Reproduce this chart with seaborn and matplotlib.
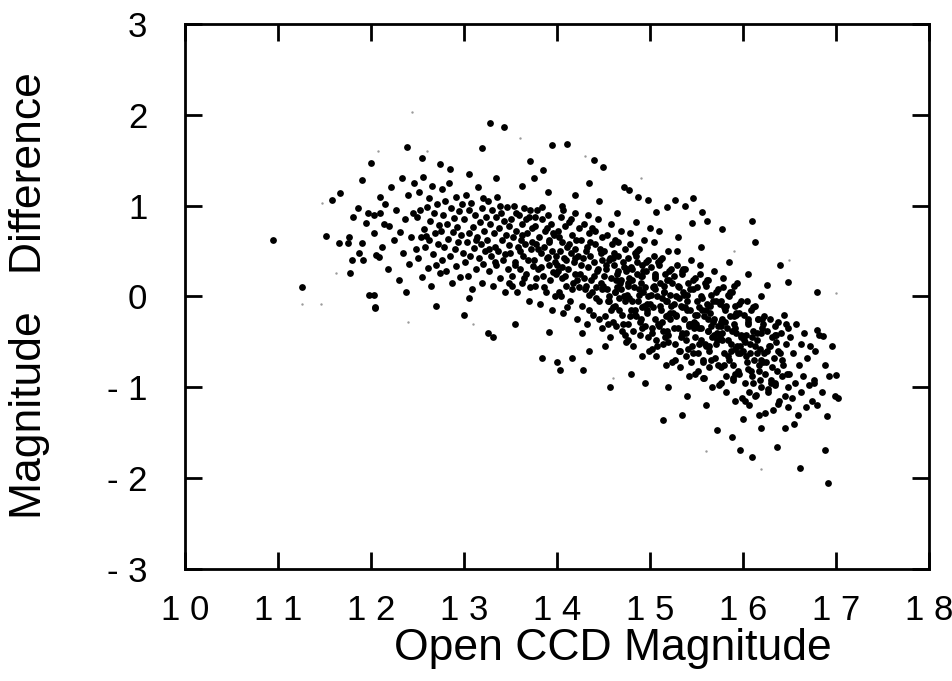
import pandas as pd
import matplotlib.pyplot as plt
import seaborn as sns

mag_left = [10.95, 11.58, 11.26, 11.67, 11.52, 11.66, 11.75, 11.76, 11.90, 11.78,
            11.98, 12.03, 12.04, 11.87, 11.80, 11.92, 11.86, 11.81, 11.97, 12.03,
            12.10, 11.90, 12.00, 11.95, 12.03, 12.10, 12.09, 12.06]
diff_left = [0.62, 1.06, 0.10, 1.14, 0.67, 0.59, 0.59, 0.66, 0.59, 0.26,
             0.02, 0.02, -0.12, 0.48, 0.40, 0.40, 0.97, 0.87, 0.92, 0.90,
             0.92, 1.28, 1.47, 0.81, 0.70, 1.10, 0.44, 0.46]

mag_121 = [12.12, 12.15, 12.18, 12.20, 12.22, 12.25, 12.27, 12.30, 12.31, 12.33,
           12.35, 12.37, 12.40, 12.41, 12.43, 12.45, 12.46, 12.48, 12.14, 12.38]
diff_121 = [0.55, 1.02, 0.30, 0.78, 1.21, 0.62, 0.95, 0.18, 0.71, 1.30,
            0.48, 0.85, 1.12, 0.36, 0.66, 0.92, 1.25, 0.52, 0.80, 0.05]

mag_125 = [12.50, 12.51, 12.52, 12.54, 12.55, 12.56, 12.57, 12.58, 12.60, 12.61,
           12.62, 12.63, 12.64, 12.65, 12.66, 12.67, 12.68, 12.69, 12.70, 12.71,
           12.72, 12.73, 12.74, 12.53, 12.59]
diff_125 = [0.88, 0.42, 1.15, 0.66, 0.21, 1.32, 0.74, 0.55, 0.98, 0.31,
            1.08, 0.62, 0.83, 0.12, 1.22, 0.47, 0.92, 0.70, 0.35, 1.02,
            0.58, 0.79, 0.26, 0.95, 0.67]

mag_1275 = [12.75, 12.76, 12.77, 12.78, 12.79, 12.80, 12.81, 12.82, 12.83, 12.84,
            12.85, 12.86, 12.87, 12.88, 12.89, 12.90, 12.91, 12.92, 12.93, 12.94,
            12.95, 12.96, 12.97, 12.98, 12.99]
diff_1275 = [0.72, 1.18, 0.40, 0.90, 0.55, 1.05, 0.28, 0.80, 0.63, 1.25,
             0.45, 0.97, 0.15, 0.71, 0.86, 0.52, 1.10, 0.33, 0.77, 0.60,
             0.94, 0.21, 0.68, 1.02, 0.48]

mag_13 = [13.00, 13.01, 13.02, 13.03, 13.04, 13.05, 13.06, 13.07, 13.08, 13.09,
          13.10, 13.11, 13.12, 13.13, 13.14, 13.15, 13.16, 13.17, 13.18, 13.19,
          13.20, 13.21, 13.22, 13.23, 13.24, 13.05, 13.13, 13.21]
diff_13 = [0.85, 0.38, 1.12, 0.60, 0.22, 0.95, 0.70, 0.45, 1.03, 0.08,
           0.77, 0.53, 0.90, 0.30, 0.66, 1.20, 0.42, 0.82, 0.58, 0.15,
           0.97, 0.36, 0.72, 0.50, 0.88, -0.02, 0.62, 1.08]

mag_1325 = [13.25, 13.26, 13.27, 13.28, 13.29, 13.30, 13.31, 13.32, 13.33, 13.34,
            13.35, 13.36, 13.37, 13.38, 13.39, 13.40, 13.41, 13.42, 13.43, 13.44,
            13.45, 13.46, 13.47, 13.48, 13.49, 13.27, 13.33, 13.39, 13.44, 13.48]
diff_1325 = [0.62, 1.05, 0.28, 0.80, 0.45, 0.95, 0.12, 0.70, 0.55, 0.88,
             0.35, 1.10, 0.50, 0.75, 0.20, 0.92, 0.62, 0.40, 0.83, 0.05,
             0.68, 0.98, 0.30, 0.57, 0.78, 0.52, 0.38, 1.00, 0.47, 0.15]

mag_135 = [13.50, 13.51, 13.52, 13.53, 13.54, 13.55, 13.56, 13.57, 13.58, 13.59,
           13.60, 13.61, 13.62, 13.63, 13.64, 13.65, 13.66, 13.67, 13.68, 13.69,
           13.70, 13.71, 13.72, 13.73, 13.74, 13.52, 13.56, 13.60, 13.63, 13.67,
           13.70, 13.73, 13.55, 13.65, 13.71]
diff_135 = [0.48, 0.85, 0.22, 0.65, 1.00, 0.38, 0.72, 0.05, 0.55, 0.90,
            0.30, 0.62, 0.80, 0.15, 0.45, 0.97, 0.58, 0.25, 0.70, 0.40,
            0.88, 0.10, 0.52, 0.75, 0.33, 0.12, 0.92, 0.50, 0.68, 0.85,
            -0.05, 0.60, 0.35, 0.20, 0.95]

mag_1375 = [13.75, 13.76, 13.77, 13.78, 13.79, 13.80, 13.81, 13.82, 13.83, 13.84,
            13.85, 13.86, 13.87, 13.88, 13.89, 13.90, 13.91, 13.92, 13.93, 13.94,
            13.95, 13.96, 13.97, 13.98, 13.99, 13.77, 13.80, 13.83, 13.86, 13.89,
            13.92, 13.95, 13.98, 13.78, 13.84, 13.90, 13.96, 13.99]
diff_1375 = [0.40, 0.78, 0.12, 0.58, 0.95, 0.30, 0.65, -0.08, 0.48, 0.85,
             0.22, 0.55, 0.72, 0.05, 0.42, 0.90, 0.35, 0.62, 0.18, 0.80,
             0.50, 0.27, 0.68, 0.00, 0.45, 0.88, 0.52, 0.32, 0.10, 0.75,
             0.60, -0.15, 0.38, 0.20, 0.98, 0.44, 0.70, 0.25]

mag_14 = [14.00, 14.01, 14.02, 14.03, 14.04, 14.05, 14.06, 14.07, 14.08, 14.09,
          14.10, 14.11, 14.12, 14.13, 14.14, 14.15, 14.16, 14.17, 14.18, 14.19,
          14.20, 14.21, 14.22, 14.23, 14.24, 14.01, 14.04, 14.07, 14.10, 14.13,
          14.16, 14.19, 14.22, 14.02, 14.06, 14.11, 14.15, 14.20, 14.24, 14.09]
diff_14 = [0.35, 0.72, 0.05, 0.50, 0.88, 0.20, 0.60, -0.18, 0.42, 0.78,
           0.12, 0.55, 0.30, 0.82, -0.05, 0.48, 0.68, 0.15, 0.38, 0.92,
           0.25, 0.62, -0.25, 0.45, 0.75, 0.28, 0.00, 0.95, 0.40, 0.58,
           0.08, 0.52, 0.18, 0.65, 0.32, -0.12, 0.85, 0.42, 0.10, 0.22]

mag_1425 = [14.25, 14.26, 14.27, 14.28, 14.29, 14.30, 14.31, 14.32, 14.33, 14.34,
            14.35, 14.36, 14.37, 14.38, 14.39, 14.40, 14.41, 14.42, 14.43, 14.44,
            14.45, 14.46, 14.47, 14.48, 14.49, 14.26, 14.29, 14.32, 14.35, 14.38,
            14.41, 14.44, 14.47, 14.27, 14.31, 14.36, 14.40, 14.45, 14.49, 14.33,
            14.42, 14.48]
diff_1425 = [0.25, 0.62, -0.10, 0.42, 0.80, 0.08, 0.50, -0.30, 0.32, 0.70,
             0.02, 0.45, 0.18, 0.75, -0.20, 0.38, 0.58, 0.10, 0.28, 0.85,
             -0.05, 0.52, 0.15, 0.65, -0.35, 0.35, 0.20, 0.55, -0.15, 0.05,
             0.72, 0.30, 0.48, -0.40, 0.12, 0.60, 0.22, -0.25, 0.40, 0.90,
             -0.02, 0.08]

mag_145 = [14.50, 14.51, 14.52, 14.53, 14.54, 14.55, 14.56, 14.57, 14.58, 14.59,
           14.60, 14.61, 14.62, 14.63, 14.64, 14.65, 14.66, 14.67, 14.68, 14.69,
           14.70, 14.71, 14.72, 14.73, 14.74, 14.51, 14.54, 14.57, 14.60, 14.63,
           14.66, 14.69, 14.72, 14.52, 14.56, 14.61, 14.65, 14.70, 14.74, 14.58,
           14.67, 14.73]
diff_145 = [0.12, 0.50, -0.22, 0.30, 0.68, -0.05, 0.40, -0.45, 0.20, 0.58,
            -0.12, 0.35, 0.05, 0.62, -0.32, 0.25, 0.45, -0.02, 0.15, 0.72,
            -0.20, 0.38, 0.00, 0.52, -0.50, 0.22, 0.08, 0.42, -0.28, -0.10,
            0.60, 0.18, 0.32, -0.55, 0.00, 0.48, 0.10, -0.38, 0.28, 0.80,
            -0.15, -0.05]

mag_1475 = [14.75, 14.76, 14.77, 14.78, 14.79, 14.80, 14.81, 14.82, 14.83, 14.84,
            14.85, 14.86, 14.87, 14.88, 14.89, 14.90, 14.91, 14.92, 14.93, 14.94,
            14.95, 14.96, 14.97, 14.98, 14.99, 14.76, 14.78, 14.80, 14.82, 14.84,
            14.86, 14.88, 14.90, 14.92, 14.94, 14.96, 14.98, 14.77, 14.81, 14.85,
            14.89, 14.93, 14.97, 14.79, 14.91]
diff_1475 = [0.02, 0.42, -0.30, 0.20, 0.58, -0.15, 0.30, -0.55, 0.10, 0.48,
             -0.22, 0.25, -0.05, 0.52, -0.42, 0.15, 0.35, -0.12, 0.05, 0.62,
             -0.32, 0.28, -0.08, 0.40, -0.60, 0.12, -0.02, 0.32, -0.38, -0.20,
             0.50, 0.08, 0.22, -0.65, -0.10, 0.38, 0.00, -0.48, 0.18, 0.45,
             -0.28, 0.28, -0.15, 0.70, -0.35]

mag_15 = [15.00, 15.01, 15.02, 15.03, 15.04, 15.05, 15.06, 15.07, 15.08, 15.09,
          15.10, 15.11, 15.12, 15.13, 15.14, 15.15, 15.16, 15.17, 15.18, 15.19,
          15.20, 15.21, 15.22, 15.23, 15.24, 15.01, 15.03, 15.05, 15.07, 15.09,
          15.11, 15.13, 15.15, 15.17, 15.19, 15.21, 15.23, 15.02, 15.06, 15.10,
          15.14, 15.18, 15.22, 15.04, 15.16]
diff_15 = [-0.08, 0.32, -0.40, 0.10, 0.45, -0.25, 0.20, -0.65, 0.00, 0.38,
           -0.32, 0.15, -0.15, 0.42, -0.52, 0.05, 0.25, -0.22, -0.05, 0.50,
           -0.42, 0.18, -0.18, 0.30, -0.72, 0.02, -0.12, 0.22, -0.48, -0.30,
           0.40, -0.02, 0.12, -0.75, -0.20, 0.28, -0.10, -0.58, 0.08, 0.35,
           -0.38, 0.18, -0.25, 0.60, -0.45]

mag_1525 = [15.25, 15.26, 15.27, 15.28, 15.29, 15.30, 15.31, 15.32, 15.33, 15.34,
            15.35, 15.36, 15.37, 15.38, 15.39, 15.40, 15.41, 15.42, 15.43, 15.44,
            15.45, 15.46, 15.47, 15.48, 15.49, 15.26, 15.28, 15.30, 15.32, 15.34,
            15.36, 15.38, 15.40, 15.42, 15.44, 15.46, 15.48, 15.27, 15.31, 15.35,
            15.39, 15.43, 15.47, 15.29, 15.41]
diff_1525 = [-0.18, 0.22, -0.52, 0.00, 0.35, -0.35, 0.10, -0.78, -0.10, 0.28,
             -0.42, 0.05, -0.25, 0.30, -0.65, -0.05, 0.15, -0.32, -0.15, 0.40,
             -0.55, 0.08, -0.28, 0.20, -0.85, -0.08, -0.22, 0.12, -0.60, -0.40,
             0.30, -0.12, 0.02, -0.88, -0.30, 0.18, -0.20, -0.70, -0.02, 0.25,
             -0.48, 0.08, -0.35, 0.50, -0.58]

mag_155 = [15.50, 15.51, 15.52, 15.53, 15.54, 15.55, 15.56, 15.57, 15.58, 15.59,
           15.60, 15.61, 15.62, 15.63, 15.64, 15.65, 15.66, 15.67, 15.68, 15.69,
           15.70, 15.71, 15.72, 15.73, 15.74, 15.51, 15.53, 15.55, 15.57, 15.59,
           15.61, 15.63, 15.65, 15.67, 15.69, 15.71, 15.73, 15.52, 15.56, 15.60,
           15.64, 15.68, 15.72, 15.54, 15.66]
diff_155 = [-0.30, 0.10, -0.62, -0.12, 0.25, -0.48, -0.02, -0.90, -0.22, 0.15,
            -0.55, -0.08, -0.38, 0.18, -0.78, -0.18, 0.02, -0.45, -0.28, 0.28,
            -0.68, -0.05, -0.40, 0.08, -0.98, -0.20, -0.35, 0.00, -0.72, -0.52,
            0.18, -0.25, -0.10, -1.00, -0.42, 0.05, -0.32, -0.82, -0.15, 0.12,
            -0.60, -0.05, -0.48, 0.35, -0.70]

mag_1575 = [15.75, 15.76, 15.77, 15.78, 15.79, 15.80, 15.81, 15.82, 15.83, 15.84,
            15.85, 15.86, 15.87, 15.88, 15.89, 15.90, 15.91, 15.92, 15.93, 15.94,
            15.95, 15.96, 15.97, 15.98, 15.99, 15.76, 15.78, 15.80, 15.82, 15.84,
            15.86, 15.88, 15.90, 15.92, 15.94, 15.96, 15.98, 15.77, 15.81, 15.85,
            15.89, 15.93, 15.97, 15.79, 15.91]
diff_1575 = [-0.45, -0.05, -0.78, -0.25, 0.10, -0.62, -0.15, -1.05, -0.35, 0.02,
             -0.70, -0.22, -0.52, 0.05, -0.92, -0.30, -0.10, -0.58, -0.40, 0.15,
             -0.82, -0.18, -0.55, -0.05, -1.12, -0.32, -0.48, -0.12, -0.88, -0.65,
             0.05, -0.38, -0.22, -1.15, -0.55, -0.08, -0.45, -0.95, -0.28, 0.00,
             -0.75, -0.18, -0.62, 0.20, -0.85]

mag_16 = [16.00, 16.01, 16.02, 16.03, 16.04, 16.05, 16.06, 16.07, 16.08, 16.09,
          16.10, 16.11, 16.12, 16.13, 16.14, 16.15, 16.16, 16.17, 16.18, 16.19,
          16.20, 16.21, 16.22, 16.23, 16.24, 16.01, 16.03, 16.05, 16.07, 16.09,
          16.11, 16.13, 16.15, 16.17, 16.19, 16.21, 16.23, 16.02, 16.10, 16.18]
diff_16 = [-0.60, -0.20, -0.95, -0.42, -0.05, -0.80, -0.30, -1.20, -0.52, -0.15,
           -0.88, -0.38, -0.70, -0.10, -1.08, -0.48, -0.25, -0.75, -0.58, 0.00,
           -1.00, -0.35, -0.72, -0.22, -1.28, -0.48, -0.65, -0.28, -1.05, -0.82,
           -0.12, -0.55, -0.40, -1.30, -0.70, -0.25, -0.62, -1.15, -0.45, -0.92]

mag_1625 = [16.25, 16.26, 16.27, 16.28, 16.29, 16.30, 16.31, 16.32, 16.33, 16.34,
            16.35, 16.36, 16.37, 16.38, 16.39, 16.40, 16.41, 16.42, 16.43, 16.44,
            16.45, 16.46, 16.47, 16.48, 16.49, 16.26, 16.30, 16.34, 16.38, 16.42,
            16.46, 16.48]
diff_1625 = [-0.72, -0.38, -1.05, -0.55, -0.25, -0.92, -0.45, -1.25, -0.68, -0.32,
             -0.98, -0.50, -0.82, -0.28, -1.15, -0.62, -0.40, -0.88, -0.75, -0.20,
             -1.10, -0.52, -0.85, -0.35, -1.22, -0.60, -0.95, -0.42, -1.18, -0.70,
             -0.30, -1.00]

mag_165 = [16.50, 16.51, 16.53, 16.54, 16.56, 16.57, 16.59, 16.60, 16.62, 16.63,
           16.65, 16.66, 16.68, 16.69, 16.71, 16.72, 16.74, 16.55, 16.76, 16.78,
           16.80, 16.82, 16.85, 16.88, 16.90, 16.93, 16.96, 16.99]
diff_165 = [-0.85, -0.45, -1.12, -0.62, -0.95, -0.30, -1.30, -0.75, -0.52, -1.05,
            -0.88, -0.40, -1.22, -0.68, -0.98, -0.55, -1.15, -1.40, -0.95, -0.60,
            -1.20, -0.42, -1.05, -0.75, -1.32, -0.88, -0.55, -1.10]

# the crowded core of the band between 14.5 and 16.4
mag_core = [14.53, 14.58, 14.62, 14.66, 14.71, 14.77, 14.81, 14.86, 14.90, 14.95,
            15.02, 15.06, 15.11, 15.15, 15.20, 15.24, 15.28, 15.33, 15.37, 15.42,
            15.46, 15.51, 15.55, 15.60, 15.64, 15.69, 15.73, 15.78, 15.82, 15.87,
            15.91, 15.96, 16.02, 16.06, 16.11, 16.15, 16.20, 16.24, 16.29, 16.34,
            14.56, 14.64, 14.73, 14.84, 14.92, 15.04, 15.13, 15.22, 15.31, 15.40,
            15.48, 15.57, 15.66, 15.75, 15.84, 15.93, 16.04, 16.13, 16.22, 16.31,
            14.60, 14.69, 14.79, 14.88, 14.98, 15.08, 15.17, 15.26, 15.35, 15.44,
            15.53, 15.62, 15.71, 15.80, 15.89, 15.98, 16.08, 16.17, 16.27, 16.38,
            14.55, 14.75, 14.97, 15.18, 15.39, 15.58, 15.77, 15.95, 16.16, 16.36]
diff_core = [0.35, -0.15, 0.05, 0.28, -0.30, 0.15, -0.05, 0.38, -0.25, 0.10,
             -0.35, 0.25, -0.10, 0.05, -0.50, 0.15, -0.20, -0.45, 0.02, -0.30,
             -0.62, -0.05, -0.35, -0.15, -0.55, -0.25, -0.75, -0.40, -0.10, -0.60,
             -0.35, -0.85, -0.50, -0.25, -0.95, -0.62, -0.40, -0.85, -0.55, -0.95,
             -0.05, 0.18, -0.42, -0.15, 0.22, 0.12, -0.28, 0.02, -0.60, -0.15,
             -0.45, -0.70, -0.32, -0.08, -0.48, -0.20, -0.72, -1.10, -0.30, -0.78,
             0.42, 0.08, -0.22, 0.02, -0.45, -0.55, -0.05, -0.35, -0.12, -0.72,
             -0.52, -0.38, -0.52, -0.75, -0.90, -0.42, -0.62, -0.82, -1.02, -0.60,
             -0.30, 0.30, -0.18, -0.38, -0.40, -0.90, -0.28, -0.62, -0.25, -0.42]

# scattered stars above and below the main band
mag_out = [13.28, 13.43, 12.39, 12.74, 13.19, 13.95, 14.11, 13.71, 13.85, 14.40,
           14.50, 14.78, 14.72, 14.87, 15.27, 15.38, 15.46, 16.10, 15.78, 15.61,
           15.45, 15.56, 16.13, 15.18, 15.07, 14.98, 16.40, 16.48, 16.26, 16.80,
           16.80, 16.86, 17.00, 17.02, 16.77, 16.92, 15.97, 16.10, 16.37, 16.61,
           16.88, 15.35, 15.72, 15.88, 13.31, 13.26, 13.84, 14.00, 14.03, 14.16,
           13.91, 12.04, 14.28, 14.57, 15.14, 13.05, 13.35, 13.62, 13.90, 14.20,
           14.45, 14.65, 14.85, 15.10, 15.30, 15.55, 15.85, 16.05, 12.85, 12.55,
           13.75, 14.35, 14.05, 15.00, 15.90, 12.70, 13.00, 13.55, 14.35, 14.80,
           15.20, 15.60, 16.20, 16.45, 16.00, 15.40, 14.95]
diff_out = [1.91, 1.87, 1.65, 1.46, 1.63, 1.67, 1.68, 1.49, 1.39, 1.50,
            1.43, 1.17, 1.20, 1.10, 1.06, 1.00, 1.08, 0.83, 0.74, 0.83,
            0.81, 0.93, 0.60, 0.98, 0.93, 1.06, 0.35, 0.16, 0.13, 0.05,
            -0.37, -0.43, -0.87, -1.12, -0.92, -2.05, -1.69, -1.77, -1.66, -1.89,
            -1.69, -1.30, -1.47, -1.55, -0.45, -0.40, -0.68, -0.72, -0.81, -0.68,
            -0.39, -0.13, -0.81, -1.00, -1.36, 1.35, 1.30, 1.22, 1.15, 1.12,
            1.05, 0.92, 0.82, 0.72, 0.65, 0.55, 0.38, 0.25, 1.40, 1.52,
            1.30, 1.25, 1.00, 0.75, 0.12, -0.10, -0.20, -0.30, -0.60, -0.85,
            -1.00, -1.20, -1.45, -1.45, -1.35, -1.10, -0.95]

# very faint specks in the scan
mag_faint = [11.26, 11.46, 11.47, 11.63, 12.08, 12.44, 12.40, 17.00, 13.60, 14.30,
             14.90, 15.60, 16.20, 13.10, 12.60, 14.60, 16.50, 15.90]
diff_faint = [-0.08, -0.08, 1.03, 0.26, 1.60, 2.03, -0.28, 0.04, 1.75, 1.55,
              1.30, -1.70, -1.90, -0.30, 1.60, -0.90, 0.40, 0.50]

x_ticks = [10, 11, 12, 13, 14, 15, 16, 17, 18]
x_tick_labels = ["1 0", "1 1", "1 2", "1 3", "1 4", "1 5", "1 6", "1 7", "1 8"]
y_ticks = [-3, -2, -1, 0, 1, 2, 3]
y_tick_labels = ["- 3", "- 2", "- 1", "0", "1", "2", "3"]

stars = pd.DataFrame({
    "mag": mag_left + mag_121 + mag_125 + mag_1275 + mag_13 + mag_1325 + mag_135
    + mag_1375 + mag_14 + mag_1425 + mag_145 + mag_1475 + mag_15 + mag_1525
    + mag_155 + mag_1575 + mag_16 + mag_1625 + mag_165 + mag_core + mag_out,
    "diff": diff_left + diff_121 + diff_125 + diff_1275 + diff_13 + diff_1325 + diff_135
    + diff_1375 + diff_14 + diff_1425 + diff_145 + diff_1475 + diff_15 + diff_1525
    + diff_155 + diff_1575 + diff_16 + diff_1625 + diff_165 + diff_core + diff_out,
})
faint = pd.DataFrame({"mag": mag_faint, "diff": diff_faint})

sns.set_style("ticks")
plt.rcParams["font.family"] = ["Liberation Sans", "DejaVu Sans"]
plt.rcParams["text.color"] = "black"

fig = plt.figure(figsize=(9.53, 6.81), dpi=100)
ax = fig.add_axes([0.194, 0.1645, 0.7807, 0.8003])

sns.scatterplot(data=faint, x="mag", y="diff", color="#9a9a9a", s=3, linewidth=0, ax=ax)
sns.scatterplot(data=stars, x="mag", y="diff", color="black", s=24, linewidth=0, ax=ax)

ax.set_xlim(10, 18)
ax.set_ylim(-3, 3)
ax.set_xticks(x_ticks)
ax.set_xticklabels(x_tick_labels)
ax.set_yticks(y_ticks)
ax.set_yticklabels(y_tick_labels)
ax.tick_params(direction="in", length=12, width=2, top=True, right=True,
               labelsize=25, colors="black", labelcolor="black")
ax.tick_params(axis="x", pad=18)
ax.tick_params(axis="y", pad=27)
for sp in ax.spines.values():
    sp.set_visible(True)
    sp.set_linewidth(2)
    sp.set_color("black")

ax.set_xlabel("")
ax.set_ylabel("")
fig.text(613 / 953, 21 / 681, "Open CCD Magnitude", fontsize=32, color="black",
         ha="center", va="baseline")
fig.text(30 / 953, 1 - 296 / 681, "Magnitude   Difference", fontsize=32, color="black",
         rotation=90, ha="center", va="center")

fig.savefig("out.png", dpi=100)
